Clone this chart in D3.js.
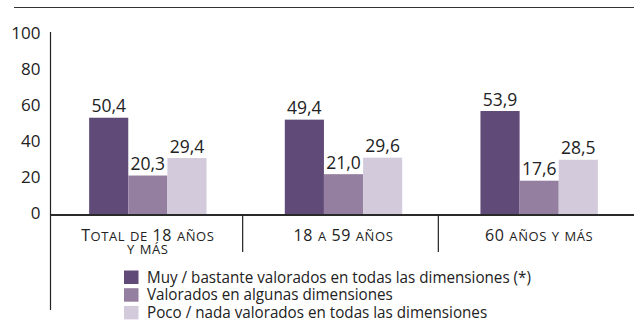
<!DOCTYPE html>
<html>
<head>
<meta charset="utf-8">
<script src="https://cdn.jsdelivr.net/npm/d3@7"></script>
<style>
  html, body { margin: 0; padding: 0; background: #fff; }
  svg { display: block; font-family: "Open Sans", "Noto Sans", sans-serif; }
</style>
</head>
<body>
<svg id="chart" width="634" height="322"></svg>
<script>
// Age groups along the x axis (two-line labels where needed)
const categories = ["Total de 18 años y más", "18 a 59 años", "60 años y más"];
const categoryLines = [["Total de 18 años", "y más"], ["18 a 59 años"], ["60 años y más"]];

// Series (legend order) and their values per age group
const seriesNames = [
  "Muy / bastante valorados en todas las dimensiones (*)",
  "Valorados en algunas dimensiones",
  "Poco / nada valorados en todas las dimensiones"
];
const muyBastante = [50.4, 49.4, 53.9];
const algunas     = [20.3, 21.0, 17.6];
const pocoNada    = [29.4, 29.6, 28.5];
const seriesValues = [muyBastante, algunas, pocoNada];

const yTicks = [0, 20, 40, 60, 80, 100];
const colors = ["#604a78", "#957fa0", "#d3cbdc"];

const svg = d3.select("#chart");
const W = 634;
const zeroY = 214.5;
const axisX = 50.5;

// value scale for the bars
const y = d3.scaleLinear().domain([0, 100]).range([zeroY, 22.5]);
// label scale for the printed y axis numbers
const yLabel = d3.scaleLinear().domain([0, 100]).range([212.7, 33]);

const x0 = d3.scaleBand().domain(categories).range([50, 637]);
const x1 = d3.scaleBand().domain(seriesNames)
  .range([x0.bandwidth() * 0.2, x0.bandwidth() * 0.8]);

const fmt = v => d3.format(".1f")(v).replace(".", ",");

// rule across the top
svg.append("line")
  .attr("x1", 14).attr("x2", W).attr("y1", 7.5).attr("y2", 7.5)
  .attr("stroke", "#333").attr("stroke-width", 1.2);

// y axis: numbers only, no tick marks
const yAxis = svg.append("g")
  .attr("transform", `translate(${axisX},0)`)
  .call(d3.axisLeft(yLabel).tickValues(yTicks).tickSize(0).tickPadding(10));
yAxis.select(".domain").remove();
yAxis.selectAll("text")
  .attr("font-family", "'Open Sans', sans-serif")
  .attr("font-size", 17)
  .attr("fill", "#222");

svg.append("line")
  .attr("x1", axisX).attr("x2", axisX).attr("y1", 32).attr("y2", 310)
  .attr("stroke", "#222").attr("stroke-width", 1.2);

// bars
const groups = svg.append("g").selectAll("g")
  .data(categories)
  .join("g")
  .attr("transform", d => `translate(${x0(d)},0)`);

groups.each(function (cat, ci) {
  const g = d3.select(this);
  seriesNames.forEach((s, si) => {
    const v = seriesValues[si][ci];
    g.append("rect")
      .attr("x", x1(s))
      .attr("y", y(v))
      .attr("width", x1.bandwidth())
      .attr("height", y(0) - y(v))
      .attr("fill", colors[si]);
    g.append("text")
      .attr("x", x1(s) + x1.bandwidth() / 2)
      .attr("y", y(v) - 5.5)
      .attr("text-anchor", "middle")
      .attr("font-size", 17.5)
      .attr("fill", "#222")
      .text(fmt(v));
  });
});

// baseline
svg.append("line")
  .attr("x1", axisX).attr("x2", W).attr("y1", zeroY + 0.5).attr("y2", zeroY + 0.5)
  .attr("stroke", "#2a2a2a").attr("stroke-width", 2);

// separators between age groups
categories.slice(1).forEach(c => {
  svg.append("line")
    .attr("x1", x0(c) - 3).attr("x2", x0(c) - 3)
    .attr("y1", zeroY).attr("y2", 252)
    .attr("stroke", "#222").attr("stroke-width", 1.2);
});

// category labels in small caps: capitals and digits full size,
// lower-case letters set as smaller capitals
function smallCaps(textSel, str, big, small) {
  const runs = [];
  for (const ch of str) {
    const isSmall = ch !== ch.toUpperCase();
    const last = runs[runs.length - 1];
    if (last && last.small === isSmall) last.s += ch;
    else runs.push({ small: isSmall, s: ch });
  }
  runs.forEach(r => {
    textSel.append("tspan")
      .attr("font-size", r.small ? small : big)
      .text(r.small ? r.s.toUpperCase() : r.s);
  });
}

categories.forEach((c, ci) => {
  const cx = x0(c) + x0.bandwidth() / 2;
  categoryLines[ci].forEach((line, li) => {
    const t = svg.append("text")
      .attr("x", cx)
      .attr("y", 241 + li * 12.5)
      .attr("text-anchor", "middle")
      .attr("letter-spacing", 0.6)
      .attr("fill", "#222");
    smallCaps(t, line, 16, 13);
  });
});

// legend
const legend = svg.append("g").attr("transform", "translate(124,270.5)");
seriesNames.forEach((s, i) => {
  const row = legend.append("g").attr("transform", `translate(0,${i * 17.7})`);
  row.append("rect").attr("width", 14.5).attr("height", 13.5).attr("fill", colors[i]);
  const t = row.append("text")
    .attr("x", 23).attr("y", 12)
    .attr("font-size", 16)
    .attr("fill", "#222")
    .text(s);
  // slightly condensed setting
  const len = t.node().getComputedTextLength();
  t.attr("textLength", len * 0.95).attr("lengthAdjust", "spacingAndGlyphs");
});
</script>
</body>
</html>
